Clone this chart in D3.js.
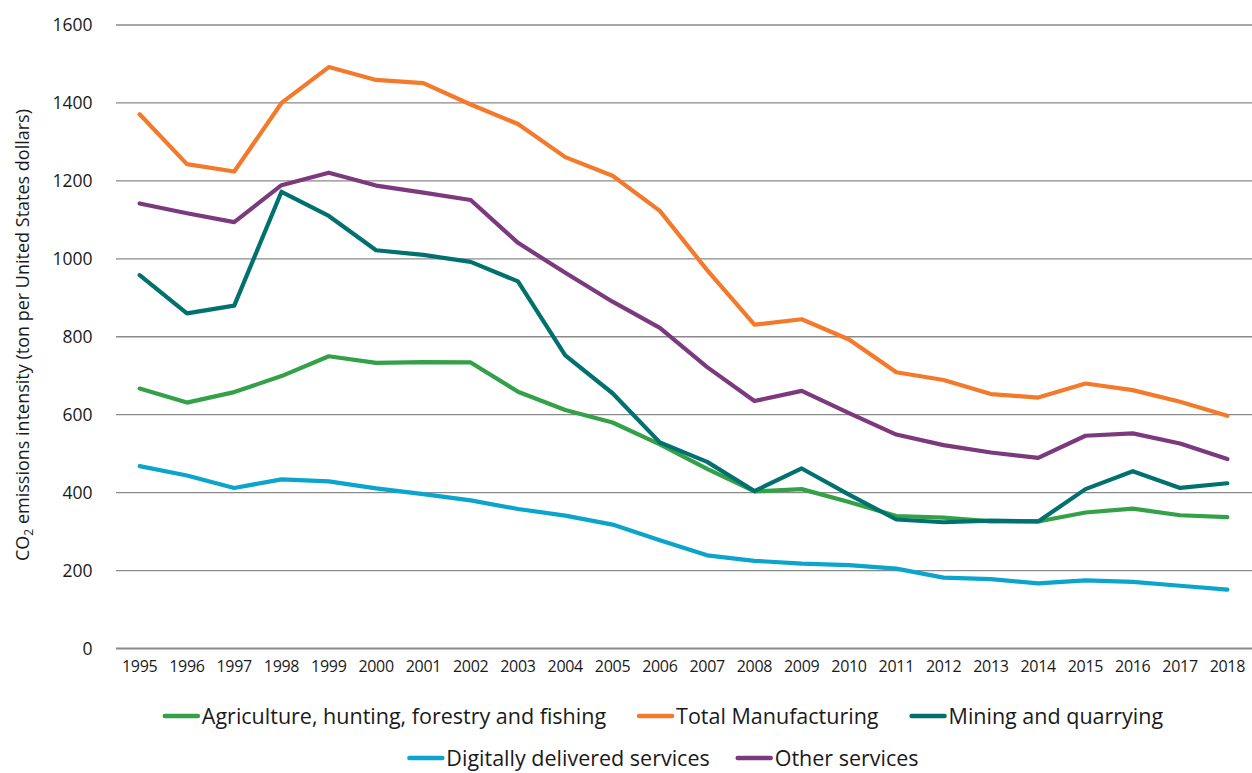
<!DOCTYPE html>
<html>
<head>
<meta charset="utf-8">
<script src="https://cdn.jsdelivr.net/npm/d3@7"></script>
<style>
  html, body { margin: 0; padding: 0; background: #fff; }
  svg { display: block; }
  text { font-family: "Open Sans", "Noto Sans", sans-serif; fill: #1a1a1a; }
</style>
</head>
<body>
<svg id="chart" width="1252" height="773"></svg>
<script>
const years = ["1995","1996","1997","1998","1999","2000","2001","2002","2003","2004","2005","2006","2007","2008","2009","2010","2011","2012","2013","2014","2015","2016","2017","2018"];
const yTicks = [0, 200, 400, 600, 800, 1000, 1200, 1400, 1600];

const agriculture   = [667, 631, 658, 699, 750, 733, 735, 734, 659, 612, 580, 524, 461, 403, 409, 376, 340, 336, 326, 326, 349, 359, 342, 337];
const manufacturing = [1371, 1243, 1224, 1400, 1492, 1459, 1451, 1396, 1346, 1261, 1213, 1123, 971, 831, 845, 793, 709, 689, 653, 644, 680, 663, 633, 597];
const mining        = [958, 860, 880, 1172, 1110, 1022, 1010, 992, 942, 752, 655, 529, 479, 404, 462, 395, 331, 324, 328, 326, 409, 455, 412, 424];
const digital       = [468, 444, 412, 434, 429, 411, 396, 380, 358, 341, 318, 278, 239, 225, 218, 214, 205, 182, 178, 167, 175, 171, 161, 151];
const otherServices = [1142, 1117, 1094, 1189, 1221, 1188, 1170, 1151, 1041, 964, 890, 823, 722, 635, 661, 604, 549, 522, 503, 489, 546, 552, 526, 486];

const seriesNames = ["Agriculture, hunting, forestry and fishing", "Total Manufacturing", "Mining and quarrying", "Digitally delivered services", "Other services"];
const seriesColors = ["#34a047", "#f47a2b", "#00716f", "#0ba4cc", "#7b3a7e"];
const seriesValues = [agriculture, manufacturing, mining, digital, otherServices];

const svg = d3.select("#chart");
const mLeft = 116, mRight = 1251, mTop = 25, mBottom = 648.5;

const x = d3.scaleBand().domain(years).range([mLeft, mRight]);
const y = d3.scaleLinear().domain([0, 1600]).range([mBottom, mTop]);

// gridlines
svg.append("g").selectAll("line").data(yTicks.filter(d => d > 0)).join("line")
  .attr("x1", mLeft).attr("x2", 1252)
  .attr("y1", d => y(d)).attr("y2", d => y(d))
  .attr("stroke", "#8a8a8a").attr("stroke-width", 1.3);

// baseline
svg.append("line").attr("x1", mLeft).attr("x2", 1252).attr("y1", y(0)).attr("y2", y(0))
  .attr("stroke", "#8a8a8a").attr("stroke-width", 2.2);

// y axis labels
const yAxis = d3.axisLeft(y).tickValues(yTicks).tickFormat(d3.format("d")).tickSize(0).tickPadding(0);
const gy = svg.append("g").attr("transform", `translate(92.5,0)`).call(yAxis);
gy.select(".domain").remove();
gy.selectAll("text").attr("font-size", 17.5).attr("font-family", "'Open Sans', sans-serif").attr("fill", "#1a1a1a").attr("dy", "0.32em");

// x axis labels
const xAxis = d3.axisBottom(x).tickSize(0).tickPadding(0);
const gx = svg.append("g").attr("transform", `translate(0,${y(0)})`).call(xAxis);
gx.select(".domain").remove();
gx.selectAll("text").attr("font-size", 16).attr("font-family", "'Open Sans', sans-serif").attr("fill", "#1a1a1a").attr("y", 12).attr("dy", "0.71em").attr("letter-spacing", "-0.3");

// lines
const line = d3.line().x((d, i) => x(years[i]) + x.bandwidth() / 2).y(d => y(d));
const order = [3, 0, 2, 4, 1];
order.forEach(k => {
  svg.append("path").datum(seriesValues[k])
    .attr("d", line)
    .attr("fill", "none")
    .attr("stroke", seriesColors[k])
    .attr("stroke-width", 4.2)
    .attr("stroke-linejoin", "round")
    .attr("stroke-linecap", "round");
});

// y axis title
const title = svg.append("text")
  .attr("transform", "translate(29,335) rotate(-90)")
  .attr("text-anchor", "middle")
  .attr("font-size", 18);
title.append("tspan").text("CO");
title.append("tspan").attr("font-size", 12).attr("dy", 4).text("2");
title.append("tspan").attr("dy", -4).text(" emissions intensity (ton per United States dollars)");

// legend
const rows = [[0, 1, 2], [3, 4]];
const rowY = [716, 758];
const rowGap = [31, 26];
const legend = svg.append("g");
rows.forEach((row, r) => {
  const g = legend.append("g");
  let cx = 0;
  row.forEach((k, j) => {
    g.append("line").attr("x1", cx + 2).attr("x2", cx + 35).attr("y1", 0).attr("y2", 0)
      .attr("stroke", seriesColors[k]).attr("stroke-width", 4.5).attr("stroke-linecap", "round");
    const t = g.append("text").attr("x", cx + 39).attr("y", 0).attr("dy", "0.35em")
      .attr("font-size", 21.5).text(seriesNames[k]);
    cx += 39 + t.node().getComputedTextLength() + rowGap[r];
  });
  const w = cx - rowGap[r];
  g.attr("transform", `translate(${663 - w / 2},${rowY[r]})`);
});
</script>
</body>
</html>
